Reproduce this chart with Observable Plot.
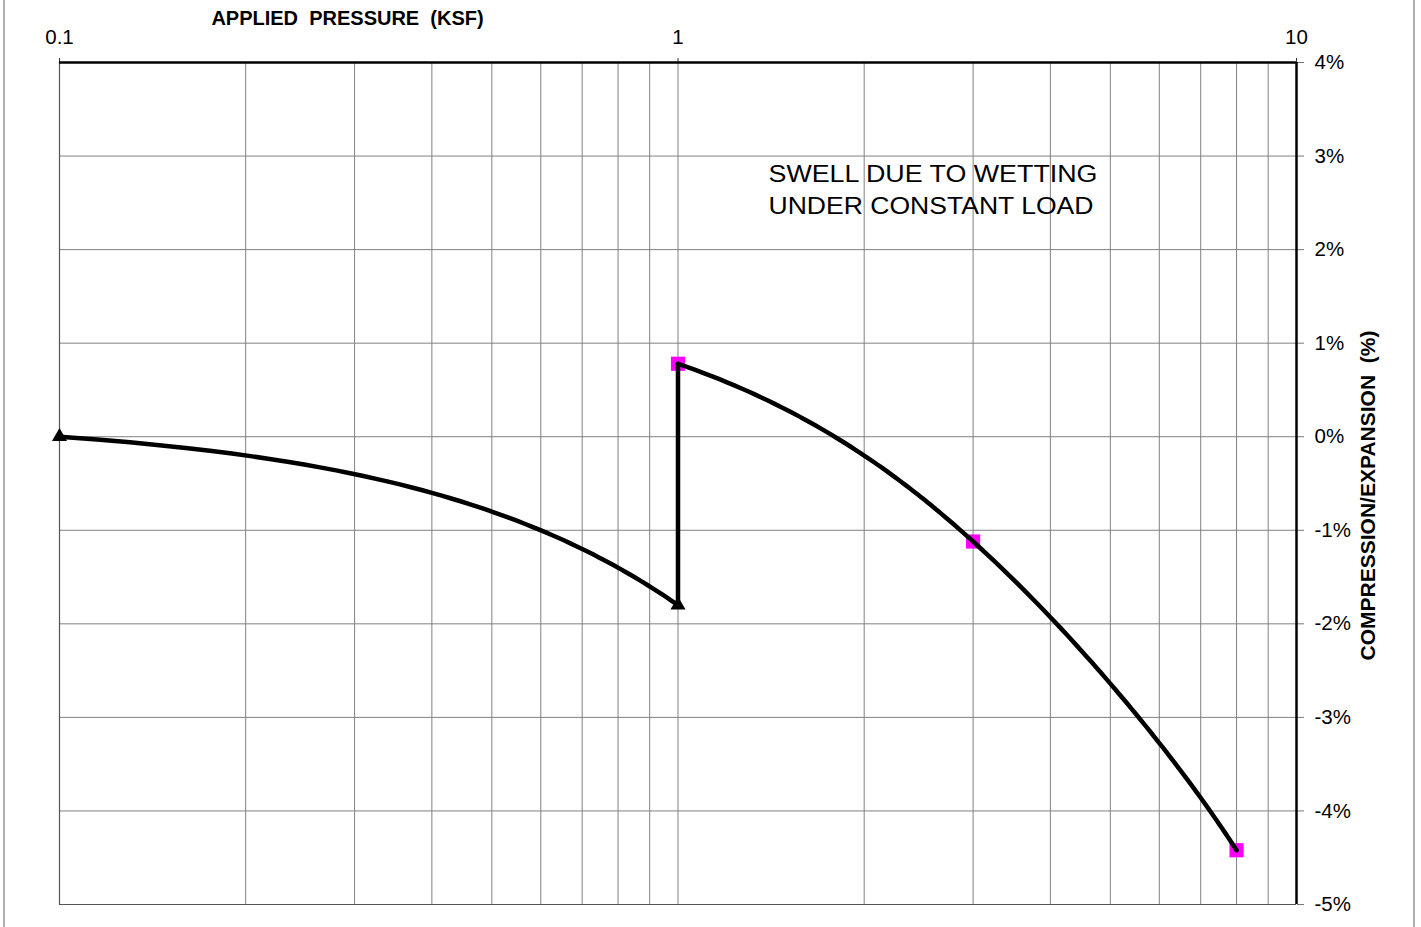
<!DOCTYPE html>
<html>
<head>
<meta charset="utf-8">
<script src="https://cdn.jsdelivr.net/npm/d3@7"></script>
<script src="https://cdn.jsdelivr.net/npm/@observablehq/plot@0.6"></script>
<style>
  html, body { margin: 0; padding: 0; background: #ffffff; }
  #wrap { position: relative; width: 1421px; height: 927px; overflow: hidden; }
  #border { position: absolute; left: 3px; top: 0; width: 1408px; height: 927px;
            border-left: 2px solid #b0b0b0; border-right: 2px solid #b0b0b0; }
  #chart { position: absolute; left: 0; top: 0; }
</style>
</head>
<body>
<div id="wrap"><div id="border"></div><div id="chart"></div></div>
<script>
// ---------------- data ----------------
const xTicks = [0.1, 1, 10];
const xTickLabels = ["0.1", "1", "10"];
const xGrid = [0.1, 0.2, 0.3, 0.4, 0.5, 0.6, 0.7, 0.8, 0.9, 1, 2, 3, 4, 5, 6, 7, 8, 9, 10];
const yTicks = [-5, -4, -3, -2, -1, 0, 1, 2, 3, 4];
const yTickLabels = ["-5%", "-4%", "-3%", "-2%", "-1%", "0%", "1%", "2%", "3%", "4%"];

// before wetting (triangles)
const pressureBefore = [0.1, 1];
const strainBefore = [0, -1.8];
// swell due to wetting at constant load
const pressureSwell = [1, 1];
const strainSwell = [-1.8, 0.78];
// after wetting (squares)
const pressureAfter = [1, 3, 8];
const strainAfter = [0.78, -1.12, -4.42];

const xLabel = "APPLIED\u00a0 PRESSURE\u00a0 (KSF)";
const yLabel = "COMPRESSION/EXPANSION\u00a0 (%)";
const noteLines = ["SWELL DUE TO WETTING", "UNDER CONSTANT LOAD"];

// ---------------- tables ----------------
const lineRows = [
  ...pressureBefore.map((p, i) => ({s: "before", p, e: strainBefore[i]})),
  ...pressureSwell.map((p, i) => ({s: "swell", p, e: strainSwell[i]})),
  ...pressureAfter.map((p, i) => ({s: "after", p, e: strainAfter[i]}))
];
const triRows = pressureBefore.map((p, i) => ({p, e: strainBefore[i]}));
const sqRows = pressureAfter.map((p, i) => ({p, e: strainAfter[i]}));

// ---------------- layout ----------------
const W = 1421, H = 927;
const mTop = 62, mBottom = 23, mLeft = 59, mRight = 125;
const pxPerDecade = (W - mLeft - mRight) / Math.log10(xTicks[2] / xTicks[0]);

// Curve drawn smoothly in data space (pressure linear), mapped onto the log axis
function dataSpaceCurve(context) {
  let pts = [];
  return {
    areaStart() {}, areaEnd() {},
    lineStart() { pts = []; },
    point(x, y) { pts.push([+x, +y]); },
    lineEnd() {
      const n = pts.length;
      if (!n) return;
      const x0 = pts[0][0];
      const u = pts.map(p => Math.pow(10, (p[0] - x0) / pxPerDecade));
      const y = pts.map(p => p[1]);
      const toPx = uu => x0 + pxPerDecade * Math.log10(uu);
      const N = 60;
      context.moveTo(pts[0][0], pts[0][1]);
      let degenerate = false;
      for (let i = 1; i < n; i++) if (Math.abs(u[i] - u[i - 1]) < 1e-9) degenerate = true;
      if (n < 3 || degenerate) {
        for (let i = 0; i < n - 1; i++) {
          if (Math.abs(u[i + 1] - u[i]) < 1e-9) { context.lineTo(pts[i + 1][0], pts[i + 1][1]); continue; }
          for (let k = 1; k <= N; k++) {
            const t = k / N;
            context.lineTo(toPx(u[i] + t * (u[i + 1] - u[i])), y[i] + t * (y[i + 1] - y[i]));
          }
        }
        return;
      }
      // natural cubic spline y(u)
      const h = [];
      for (let i = 0; i < n - 1; i++) h.push(u[i + 1] - u[i]);
      const M = new Array(n).fill(0);
      const a = [], b = [], c = [], d = [];
      for (let i = 1; i < n - 1; i++) {
        a.push(h[i - 1]); b.push(2 * (h[i - 1] + h[i])); c.push(h[i]);
        d.push(6 * ((y[i + 1] - y[i]) / h[i] - (y[i] - y[i - 1]) / h[i - 1]));
      }
      const m = b.length;
      for (let i = 1; i < m; i++) {
        const w = a[i] / b[i - 1];
        b[i] -= w * c[i - 1]; d[i] -= w * d[i - 1];
      }
      const sol = new Array(m);
      for (let i = m - 1; i >= 0; i--) sol[i] = (d[i] - (i < m - 1 ? c[i] * sol[i + 1] : 0)) / b[i];
      for (let i = 0; i < m; i++) M[i + 1] = sol[i];
      for (let i = 0; i < n - 1; i++) {
        for (let k = 1; k <= N; k++) {
          const t = k / N;
          const uu = u[i] + t * h[i];
          const A = 1 - t, B = t;
          const yy = A * y[i] + B * y[i + 1] + ((A * A * A - A) * M[i] + (B * B * B - B) * M[i + 1]) * h[i] * h[i] / 6;
          context.lineTo(toPx(uu), yy);
        }
      }
    }
  };
}

const gridColor = "#808080";
const font = "'Liberation Sans', Arial, Helvetica, sans-serif";

const chart = Plot.plot({
  width: W, height: H,
  marginTop: mTop, marginBottom: mBottom, marginLeft: mLeft, marginRight: mRight,
  style: {fontFamily: font, fontSize: "20px", background: "transparent", color: "#000"},
  x: {type: "log", domain: [xTicks[0], xTicks[2]]},
  y: {domain: [yTicks[0], yTicks[yTicks.length - 1]]},
  marks: [
    Plot.ruleX(xGrid, {stroke: gridColor, strokeWidth: 1}),
    Plot.ruleY(yTicks, {stroke: gridColor, strokeWidth: 1}),
    Plot.ruleX([xTicks[0]], {stroke: "#555", strokeWidth: 1.2}),
    Plot.ruleY([yTicks[0]], {stroke: "#555", strokeWidth: 1.2}),
    Plot.axisX({anchor: "top", ticks: xTicks, tickSize: 5, tickPadding: 14,
      tickFormat: d => xTickLabels[xTicks.indexOf(d)] ?? "", label: null, fontSize: 20.5, stroke: "#333"}),
    Plot.axisY({anchor: "right", ticks: yTicks, tickSize: 7, tickPadding: 11,
      tickFormat: d => yTickLabels[yTicks.indexOf(d)] ?? "", label: null, fontSize: 20.5, stroke: "#777"}),
    Plot.ruleY([yTicks[yTicks.length - 1]], {stroke: "#000", strokeWidth: 2.5}),
    Plot.ruleX([xTicks[2]], {stroke: "#000", strokeWidth: 2.5}),
    Plot.dot(sqRows, {x: "p", y: "e", symbol: "square", r: 8, fill: "#ff00ff", stroke: "none"}),
    Plot.line(lineRows, {x: "p", y: "e", z: "s", stroke: "#000", strokeWidth: 4.5,
      strokeLinecap: "round", strokeLinejoin: "round", curve: dataSpaceCurve}),
    Plot.dot(triRows, {x: "p", y: "e", symbol: "triangle", r: 5.6, fill: "#000", stroke: "none"}),
    Plot.text([xLabel], {frameAnchor: "top-left", dx: 347 - mLeft, dy: 10 - mTop, text: d => d,
      textAnchor: "middle", lineAnchor: "top", fontSize: 20, fontWeight: "bold"}),
    Plot.text([yLabel], {frameAnchor: "right", dx: 1368 - (W - mRight), dy: 12, text: d => d,
      rotate: -90, textAnchor: "middle", lineAnchor: "middle", fontSize: 21, fontWeight: "bold"}),
    Plot.text([noteLines[0]], {frameAnchor: "top-left", dx: 768 - mLeft, dy: 165 - mTop, text: d => d,
      textAnchor: "start", lineAnchor: "top", fontSize: 23, className: "note1"}),
    Plot.text([noteLines[1]], {frameAnchor: "top-left", dx: 768 - mLeft, dy: 197 - mTop, text: d => d,
      textAnchor: "start", lineAnchor: "top", fontSize: 23, className: "note2"})
  ]
});

d3.select(chart).selectAll(".note1 text").attr("textLength", 329).attr("lengthAdjust", "spacingAndGlyphs");
d3.select(chart).selectAll(".note2 text").attr("textLength", 325).attr("lengthAdjust", "spacingAndGlyphs");

document.getElementById("chart").appendChild(chart);
</script>
</body>
</html>
